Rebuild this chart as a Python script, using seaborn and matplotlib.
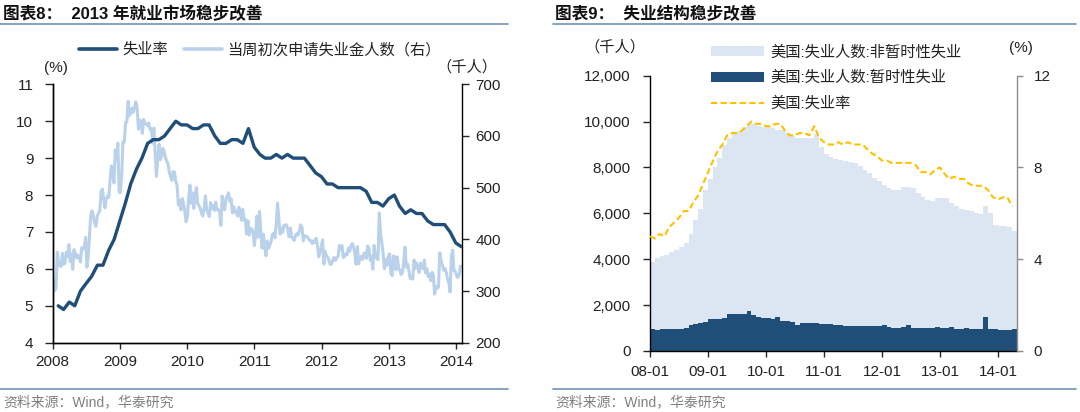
import numpy as np
import pandas as pd
import matplotlib
matplotlib.use("Agg")
import matplotlib.pyplot as plt
import matplotlib.dates as mdates
from matplotlib.lines import Line2D
from matplotlib.patches import Patch
from matplotlib.ticker import FuncFormatter, MultipleLocator
import seaborn as sns

# ---------------- data ----------------
# US unemployment rate (%), monthly 2008-01 .. 2014-01
unemp_rate = [5.0, 4.9, 5.1, 5.0, 5.4, 5.6, 5.8, 6.1, 6.1, 6.5, 6.8, 7.3,
              7.8, 8.3, 8.7, 9.0, 9.4, 9.5, 9.5, 9.6, 9.8, 10.0, 9.9, 9.9,
              9.8, 9.8, 9.9, 9.9, 9.6, 9.4, 9.4, 9.5, 9.5, 9.4, 9.8, 9.3,
              9.1, 9.0, 9.0, 9.1, 9.0, 9.1, 9.0, 9.0, 9.0, 8.8, 8.6, 8.5,
              8.3, 8.3, 8.2, 8.2, 8.2, 8.2, 8.2, 8.1, 7.8, 7.8, 7.7, 7.9,
              8.0, 7.7, 7.5, 7.6, 7.5, 7.5, 7.3, 7.2, 7.2, 7.2, 7.0, 6.7,
              6.6]
unemp_rate_extra = [6.7, 6.7, 6.3]  # 2014-02 .. 2014-04

# weekly initial jobless claims (thousands)
claims_2008 = [322, 301, 306, 375, 356, 348, 348, 373, 352, 354, 375, 367, 390,
               357, 372, 342, 380, 365, 371, 364, 368, 356, 384, 381, 384, 404,
               346, 366, 406, 448, 455, 445, 432, 425, 444, 451, 455, 493, 497,
               478, 461, 478, 484, 481, 516, 542, 529, 509, 573, 554, 586, 492]
claims_2009 = [490, 524, 589, 588, 626, 627, 667, 639, 644, 654, 646, 656, 666,
               654, 613, 631, 627, 605, 632, 625, 623, 620, 625, 613, 614, 586,
               615, 565, 522, 558, 584, 554, 561, 576, 570, 558, 551, 546, 530,
               521, 514, 531, 530, 512, 505, 466, 475, 457, 479, 469, 454, 434]
claims_2010 = [445, 480, 505, 470, 490, 460, 485, 500, 470, 465, 460, 450, 445,
               460, 484, 457, 451, 444, 471, 460, 465, 456, 472, 457, 457, 455,
               427, 484, 459, 457, 479, 484, 490, 473, 478, 451, 463, 453, 455,
               445, 462, 452, 437, 458, 437, 439, 410, 436, 408, 421, 420, 414]
claims_2011 = [388, 409, 445, 404, 454, 415, 383, 410, 388, 368, 397, 383, 388,
               396, 409, 412, 403, 429, 470, 440, 410, 422, 414, 427, 428, 428,
               418, 405, 422, 405, 401, 398, 408, 411, 408, 417, 428, 423, 397,
               407, 406, 405, 402, 398, 397, 392, 397, 394, 402, 388, 366, 375,
               387]
claims_2012 = [399, 352, 377, 367, 366, 358, 351, 353, 361, 365, 359, 364, 367,
               388, 380, 388, 365, 367, 372, 370, 383, 377, 387, 392, 386, 374,
               352, 386, 353, 365, 367, 361, 372, 374, 363, 387, 382, 359, 367,
               342, 388, 369, 363, 361, 451, 410, 393, 372, 343, 361, 350, 367]
claims_2013 = [372, 335, 330, 368, 366, 341, 366, 344, 340, 332, 336, 357, 385,
               346, 352, 339, 324, 327, 323, 360, 344, 354, 346, 336, 354, 348,
               343, 360, 335, 343, 328, 333, 320, 336, 331, 294, 309, 305, 308,
               374, 358, 350, 340, 344, 336, 323, 316, 298, 368, 379, 339, 338]
claims_2014 = [330, 326, 331, 348]
claims = claims_2008 + claims_2009 + claims_2010 + claims_2011 + claims_2012 + claims_2013 + claims_2014

# US unemployed persons (thousands), monthly 2008-01 .. 2014-04
non_temp = [3900, 4050, 4150, 4200, 4300, 4400, 4550, 4700, 5100, 5700, 6200, 7000,
            7500, 8000, 8400, 9000, 9300, 9500, 9600, 9750, 9950, 9900, 9800, 9780,
            9750, 9700, 9650, 9620, 9500, 9350, 9300, 9300, 9280, 9280, 9450, 8900,
            8600, 8450, 8350, 8330, 8300, 8250, 8190, 8050, 7900, 7750, 7550, 7400,
            7250, 7100, 7030, 7030, 7170, 7150, 7100, 6900, 6700, 6600, 6520, 6650,
            6680, 6650, 6450, 6300, 6200, 6150, 6090, 6020, 5950, 6300, 6010, 5500,
            5450, 5430, 5400, 5250]
temp_layoff = [950, 900, 950, 980, 980, 980, 970, 990, 1150, 1180, 1200, 1250,
               1380, 1380, 1400, 1450, 1600, 1600, 1620, 1600, 1750, 1550, 1500, 1450,
               1430, 1400, 1480, 1300, 1300, 1250, 1150, 1200, 1230, 1200, 1220, 1160,
               1160, 1160, 1150, 1120, 1100, 1090, 1090, 1090, 1090, 1080, 1090, 1090,
               1120, 1050, 1020, 1000, 1050, 1150, 1020, 990, 990, 985, 985, 1050,
               1000, 1000, 1040, 970, 970, 1000, 960, 950, 960, 1500, 940, 940,
               930, 930, 930, 940]
us_rate = unemp_rate + unemp_rate_extra

left_title = "图表8：  2013 年就业市场稳步改善"
right_title = "图表9：  失业结构稳步改善"
left_labels = ["失业率", "当周初次申请失业金人数（右）"]
right_labels = ["美国:失业人数:非暂时性失业", "美国:失业人数:暂时性失业", "美国:失业率"]
source = "资料来源：Wind，华泰研究"

# ---------------- style ----------------
sns.set_style("white")
plt.rcParams["font.family"] = ["Liberation Sans", "Noto Sans CJK SC"]
plt.rcParams["axes.unicode_minus"] = False

DARK = "#1F4E79"
LIGHT = "#B9D1EA"
LIGHTFILL = "#DCE6F2"
YELLOW = "#FFC000"
RULE = "#7B9BBD"
TXT = "#222222"

W, H = 1080, 412
fig = plt.figure(figsize=(W / 100, H / 100), dpi=100)
fig.patch.set_facecolor("white")


def fx(px):
    return px / W


def fy(py):
    return 1 - py / H


# ---------------- left chart ----------------
ax1 = fig.add_axes([fx(52.7), fy(342.7), fx(409), 258.4 / H])
ax1b = ax1.twinx()

rate_dates = pd.date_range("2008-01-31", periods=len(unemp_rate), freq="ME")
claims_dates = pd.date_range("2008-01-05", periods=len(claims), freq="W-SAT")

sns.lineplot(x=claims_dates, y=claims, ax=ax1b, color=LIGHT, linewidth=2.2)
sns.lineplot(x=rate_dates, y=unemp_rate, ax=ax1, color=DARK, linewidth=2.4)
ax1.set_zorder(ax1b.get_zorder() + 1)
ax1.patch.set_visible(False)

ax1.set_xlim(pd.Timestamp("2008-01-01"), pd.Timestamp("2014-02-01"))
ax1.set_ylim(4, 11)
ax1b.set_ylim(200, 700)
ax1.yaxis.set_major_locator(MultipleLocator(1))
ax1b.yaxis.set_major_locator(MultipleLocator(100))
ax1.xaxis.set_major_locator(mdates.YearLocator())
ax1.xaxis.set_major_formatter(mdates.DateFormatter("%Y"))
for a in (ax1, ax1b):
    a.set_xlabel("")
    a.set_ylabel("")
    a.spines["top"].set_visible(False)
    for s in a.spines.values():
        s.set_color("#000000")
        s.set_linewidth(1.0)
ax1.spines["right"].set_visible(False)
ax1.tick_params(axis="y", direction="out", length=6, width=1, pad=8,
                labelsize=11, labelcolor=TXT, left=True)
ax1.tick_params(axis="x", direction="out", length=4, width=1, pad=5,
                labelsize=11, labelcolor=TXT, bottom=True)
ax1b.tick_params(axis="y", direction="out", length=5, width=1, pad=5,
                 labelsize=11, labelcolor=TXT, right=True)

fig.legend(handles=[Line2D([], [], color=DARK, lw=2.6), Line2D([], [], color=LIGHT, lw=2.6)],
           labels=left_labels, loc="center", bbox_to_anchor=(fx(260), fy(50)),
           ncol=2, frameon=False, fontsize=11, handlelength=2.5, handletextpad=0.35,
           columnspacing=1.0, borderpad=0, labelcolor=TXT)
fig.text(fx(56), fy(68), "(%)", ha="center", va="center", fontsize=11, color=TXT)
fig.text(fx(467), fy(67), "（千人）", ha="center", va="center", fontsize=11, color=TXT)

# ---------------- right chart ----------------
ax2 = fig.add_axes([fx(650), fy(351), fx(367), 275.3 / H])
edges = pd.date_range("2008-01-01", periods=len(non_temp) + 1, freq="MS")
ax2.fill_between(edges, np.r_[non_temp, non_temp[-1]], step="post", color=LIGHTFILL, lw=0)
ax2.fill_between(edges, np.r_[temp_layoff, temp_layoff[-1]], step="post", color=DARK, lw=0)
ax2b = ax2.twinx()
sns.lineplot(x=edges[:len(us_rate)], y=us_rate, ax=ax2b, color=YELLOW, linewidth=1.5)
for ln in ax2b.get_lines():
    ln.set_dashes((3, 1.6))

ax2.set_xlim(edges[0], edges[-1])
ax2.set_ylim(0, 12000)
ax2b.set_ylim(0, 12)
ax2.yaxis.set_major_locator(MultipleLocator(2000))
ax2.yaxis.set_major_formatter(FuncFormatter(lambda v, p: f"{v:,.0f}"))
ax2b.yaxis.set_major_locator(MultipleLocator(4))
ax2.xaxis.set_major_locator(mdates.YearLocator())
ax2.xaxis.set_major_formatter(mdates.DateFormatter("%y-%m"))
for a in (ax2, ax2b):
    a.set_xlabel("")
    a.set_ylabel("")
    a.spines["top"].set_visible(False)
    for s in a.spines.values():
        s.set_color("#000000")
        s.set_linewidth(1.0)
ax2.spines["right"].set_visible(False)
ax2b.spines["left"].set_visible(False)
ax2b.spines["bottom"].set_visible(False)
ax2b.spines["right"].set_color("#8C8C8C")
ax2.tick_params(axis="y", direction="out", length=5, width=1, pad=9,
                labelsize=11, labelcolor=TXT, left=True)
ax2.tick_params(axis="x", direction="out", length=4, width=1, pad=6,
                labelsize=11, labelcolor=TXT, bottom=True)
ax2b.tick_params(axis="y", direction="out", length=4, width=1, pad=8, color="#8C8C8C",
                 labelsize=11, labelcolor=TXT, right=True)

leg2 = fig.legend(handles=[Patch(facecolor=LIGHTFILL, edgecolor="none"),
                           Patch(facecolor=DARK, edgecolor="none"),
                           Line2D([], [], color=YELLOW, lw=1.5, dashes=(3, 1.6))],
                  labels=right_labels, loc="center left",
                  bbox_to_anchor=(fx(703), fy(78)), ncol=1, frameon=False, fontsize=11,
                  handlelength=3.5, handleheight=0.65, handletextpad=0.4,
                  labelspacing=0.75, borderpad=0, labelcolor=TXT)
fig.text(fx(615), fy(47), "（千人）", ha="center", va="center", fontsize=11, color=TXT)
fig.text(fx(1021), fy(48), "(%)", ha="center", va="center", fontsize=11, color=TXT)

# ---------------- titles, rules, sources ----------------
fig.text(fx(3), fy(14), left_title, ha="left", va="center", fontsize=12,
         fontweight="bold", color="#111111")
fig.text(fx(555), fy(14), right_title, ha="left", va="center", fontsize=12,
         fontweight="bold", color="#111111")
fig.add_artist(Line2D([fx(0), fx(508)], [fy(24), fy(24)], color=RULE, lw=1.3))
fig.add_artist(Line2D([fx(553), fx(1076)], [fy(24), fy(24)], color=RULE, lw=1.3))
fig.add_artist(Line2D([fx(0), fx(508)], [fy(389), fy(389)], color=RULE, lw=1.3))
fig.add_artist(Line2D([fx(553), fx(1076)], [fy(389), fy(389)], color=RULE, lw=1.3))
fig.text(fx(3), fy(402), source, ha="left", va="center", fontsize=10, color="#808080")
fig.text(fx(555), fy(402), source, ha="left", va="center", fontsize=10, color="#808080")

fig.savefig("out.png", dpi=100, facecolor="white")
